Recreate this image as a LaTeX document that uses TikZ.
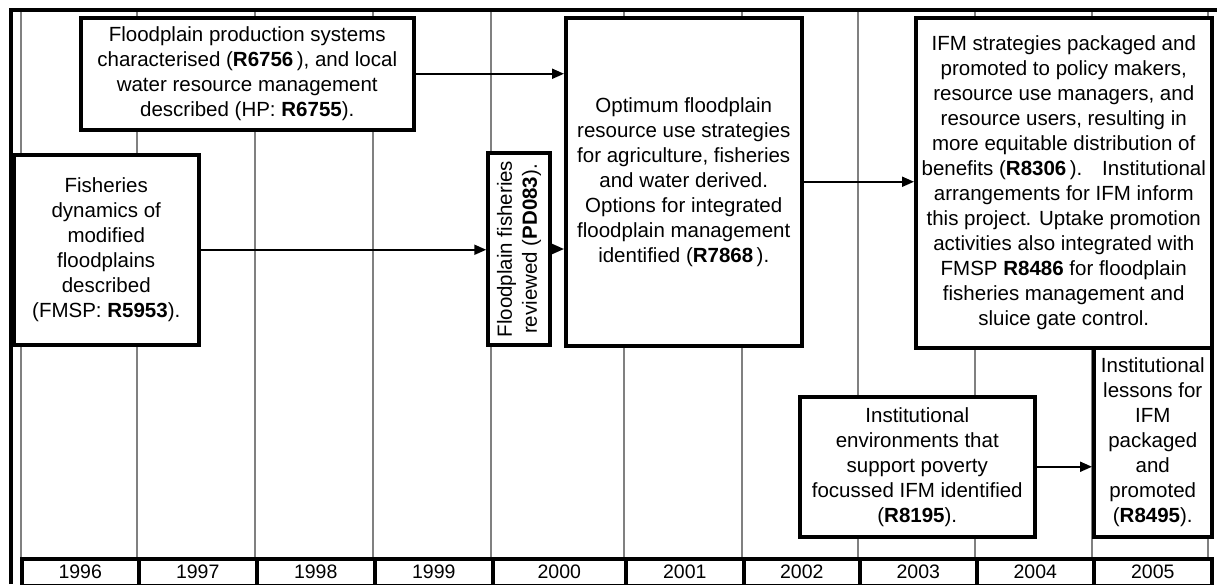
\documentclass[tikz,border=0pt]{standalone}
\usepackage{fontspec}
\setmainfont{Liberation Sans}
\usetikzlibrary{arrows.meta}

\tikzset{
  box/.style={draw, line width=3.5pt, fill=white, align=center, inner sep=0pt, anchor=north west},
  yearcell/.style={draw, line width=3.5pt, fill=white, anchor=north west, minimum height=27pt,
                   inner sep=0pt, font=\fontsize{19.5}{22}\selectfont},
  gridline/.style={draw=black!50, line width=2.6pt},
  flow/.style={line width=2pt, -{Triangle[length=12pt,width=10pt]}},
}

\begin{document}
\begin{tikzpicture}[x=1pt,y=-1pt,font=\fontsize{20.5}{25}\selectfont]
  \useasboundingbox (0,0) rectangle (1217,584);

% year grid lines
  \foreach \gx in {21,137,255,373,491,624,742,858,975,1092,1208}
    \draw[gridline] (\gx,10) -- (\gx,557);

% outer frame
  \draw[line width=3.5pt] (11,584) -- (11,10) -- (1217,10);

% year row
  \foreach \yr/\xa/\xb in {1996/20/137,1997/137/255,1998/255/373,1999/373/491,2000/491/624,
                           2001/624/742,2002/742/858,2003/858/975,2004/975/1092,2005/1092/1210}
    \node[yearcell, minimum width=\xb-\xa] (y\yr) at (\xa,557) {\yr};

% project boxes
  \node[box, minimum width=333, minimum height=112] (prod) at (79,16)
    {Floodplain production systems\\ characterised (\textbf{R6756}\,), and local\\
     water resource management\\ described (HP: \textbf{R6755}).};
  \node[box, minimum width=185, minimum height=190] (fish) at (12,153)
    {Fisheries\\ dynamics of\\ modified\\ floodplains\\ described\\ (FMSP: \textbf{R5953}).};
  \node[box, anchor=center, rotate=90, minimum width=192, minimum height=62] (review) at (519,249)
    {Floodplain fisheries\\ reviewed (\textbf{PD083}).};
  \node[box, minimum width=236, minimum height=328] (optim) at (564,16)
    {Optimum floodplain\\ resource use strategies\\ for agriculture, fisheries\\ and water derived.\\
     Options for integrated\\ floodplain management\\ identified (\textbf{R7868}\,).};
  \node[box, minimum width=296, minimum height=330] (ifm) at (914,16)
    {IFM strategies packaged and\\ promoted to policy makers,\\ resource use managers, and\\
     resource users, resulting in\\ more equitable distribution of\\
     benefits (\textbf{R8306}\,).\hspace{0.6em} Institutional\\ arrangements for IFM inform\\
     this project. Uptake promotion\\ activities also integrated with\\
     FMSP \textbf{R8486} for floodplain\\ fisheries management and\\ sluice gate control.};
  \node[box, minimum width=235, minimum height=140] (inst) at (798,395)
    {Institutional\\ environments that\\ support poverty\\ focussed IFM identified\\ (\textbf{R8195}).};
  \node[box, minimum width=118, minimum height=189] (lessons) at (1092,346)
    {Institutional\\ lessons for\\ IFM\\ packaged\\ and\\ promoted\\ (\textbf{R8495}).};

% links
  \draw[flow] (prod.east) -- (prod.east -| optim.west);
  \draw[flow] (fish.east) -- (fish.east -| review.north);
  \draw[flow] (review.south) -- (review.south -| optim.west);
  \draw[flow] (optim.east) -- (optim.east -| ifm.west);
  \draw[flow] (inst.east) -- (inst.east -| lessons.west);

\end{tikzpicture}
\end{document}
